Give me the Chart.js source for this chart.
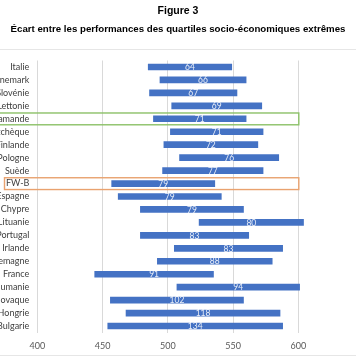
<!DOCTYPE html>
<html><head><meta charset="utf-8">
<script src="https://cdn.jsdelivr.net/npm/chart.js@4/dist/chart.umd.min.js"></script>
<style>
html,body{margin:0;padding:0;background:#fff;}
#wrap{width:356px;height:364px;position:relative;}
#c{position:absolute;left:0;top:0;}
.t{position:absolute;left:0;width:356px;text-align:center;font-family:"Liberation Sans",Arial,sans-serif;font-weight:bold;color:#000;line-height:12px;white-space:nowrap;}
#t1{top:4px;font-size:10.5px;}
#t2{top:23px;font-size:9.7px;}
</style></head>
<body><div id="wrap"><canvas id="c" width="356" height="364"></canvas>
<div class="t" id="t1">Figure 3</div>
<div class="t" id="t2">Écart entre les performances des quartiles socio-économiques extrêmes</div>
</div>
<script>
const categories = ["Italie","Danemark","Slovénie","Lettonie","Com. flamande","Rép. tchèque","Finlande","Pologne","Suède","FW-B","Espagne","Chypre","Lituanie","Portugal","Irlande","Allemagne","France","Roumanie","Rép. slovaque","Hongrie","Bulgarie"];
const lowQuartile  = [485,494,486,503,489,502,497,509,496,457,462,479,524,479,505,492,444,507,456,468,454];
const highQuartile = [549,560,553,572,560,573,569,585,573,536,541,558,604,562,588,580,535,601,558,586,588];
const gapLabels    = [64,66,67,69,71,71,72,76,77,79,79,79,80,83,83,88,91,94,102,118,134];
const xTicks = [400,450,500,550,600];
const highlighted = [{name:"Com. flamande", color:"#8cc168", x0:-2}, {name:"FW-B", color:"#e9a26f", x0:4}];

const ranges = categories.map((c,i)=>[lowQuartile[i], highQuartile[i]]);

const decor = {
  id:'decor',
  afterDatasetsDraw(chart){
    const ctx = chart.ctx, x = chart.scales.x, y = chart.scales.y;
    ctx.save();
    ctx.font = '8.5px Lato, "Open Sans", sans-serif';
    ctx.fillStyle = 'rgba(255,255,255,0.88)';
    ctx.textAlign = 'center'; ctx.textBaseline = 'middle';
    chart.getDatasetMeta(0).data.forEach((bar,i)=>{
      const cx = (x.getPixelForValue(lowQuartile[i]) + x.getPixelForValue(highQuartile[i]))/2;
      ctx.fillText(String(gapLabels[i]), cx, bar.y+0.5);
    });
    ctx.lineWidth = 1.4;
    highlighted.forEach(h=>{
      const idx = categories.indexOf(h.name);
      const yc = y.getPixelForValue(idx);
      ctx.strokeStyle = h.color;
      const xr = x.getPixelForValue(600);
      ctx.strokeRect(h.x0+0.5, yc-5.8, xr - h.x0, 11.8);
    });
    ctx.strokeStyle = '#e6e6e6'; ctx.lineWidth = 1;
    ctx.beginPath(); ctx.moveTo(0,49.5); ctx.lineTo(356,49.5); ctx.stroke();
    ctx.beginPath(); ctx.moveTo(0,355.5); ctx.lineTo(356,355.5); ctx.stroke();
    ctx.restore();
  }
};

new Chart(document.getElementById('c'), {
  type:'bar',
  data:{ labels:categories, datasets:[{ data:ranges, backgroundColor:'#4472C4', barThickness:6, clip:false, borderSkipped:false }]},
  options:{
    indexAxis:'y', responsive:false, animation:false,
    layout:{ padding:{ left:0, right:57.7, top:60.5, bottom:0 } },
    plugins:{ legend:{display:false}, tooltip:{enabled:false}, title:{display:false} },
    scales:{
      x:{ min:400, max:600, position:'bottom',
          afterBuildTicks(s){ s.ticks = xTicks.map(v=>({value:v})); },
          afterFit(s){ s.height = 31.5; },
          grid:{ color:'#d9d9d9', drawTicks:false },
          border:{ display:false },
          ticks:{ color:'#595959', padding:8, font:{family:'Lato, "Open Sans", sans-serif', size:9} } },
      y:{ afterFit(s){ s.width = 37.3; },
          grid:{ display:false, drawTicks:false },
          border:{ display:false },
          ticks:{ color:'#404040', padding:8, autoSkip:false, font:{family:'Lato, "Open Sans", sans-serif', size:9} } }
    }
  },
  plugins:[decor]
});
</script></body></html>
